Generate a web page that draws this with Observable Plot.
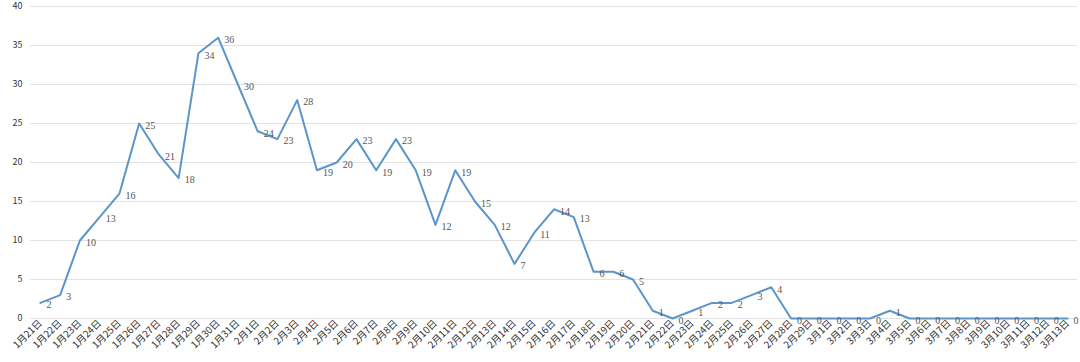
<!DOCTYPE html>
<html>
<head>
<meta charset="utf-8">
<script src="https://cdn.jsdelivr.net/npm/d3@7"></script>
<script src="https://cdn.jsdelivr.net/npm/@observablehq/plot@0.6"></script>
<style>
  html, body { margin: 0; padding: 0; background: #fff; }
  #chart svg { display: block; }
</style>
</head>
<body>
<div id="chart"></div>
<script>
const dates = [
  "1月21日","1月22日","1月23日","1月24日","1月25日","1月26日","1月27日","1月28日","1月29日","1月30日","1月31日",
  "2月1日","2月2日","2月3日","2月4日","2月5日","2月6日","2月7日","2月8日","2月9日","2月10日",
  "2月11日","2月12日","2月13日","2月14日","2月15日","2月16日","2月17日","2月18日","2月19日","2月20日",
  "2月21日","2月22日","2月23日","2月24日","2月25日","2月26日","2月27日","2月28日","2月29日",
  "3月1日","3月2日","3月3日","3月4日","3月5日","3月6日","3月7日","3月8日","3月9日","3月10日",
  "3月11日","3月12日","3月13日"
];
const values = [
  2,3,10,13,16,25,21,18,34,36,30,
  24,23,28,19,20,23,19,23,19,12,
  19,15,12,7,11,14,13,6,6,5,
  1,0,1,2,2,3,4,0,0,
  0,0,0,1,0,0,0,0,0,0,
  0,0,0
];
const yTicks = [0,5,10,15,20,25,30,35,40];

const data = dates.map((d, i) => ({date: d, value: values[i]}));

const chart = Plot.plot({
  width: 1080,
  height: 362,
  marginLeft: 30,
  marginRight: 3,
  marginTop: 6,
  marginBottom: 44,
  style: {background: "#fff", fontFamily: "'Noto Sans CJK SC', 'Noto Sans', sans-serif"},
  x: {type: "point", domain: dates, padding: 0.5, label: null},
  y: {domain: [0, 40], label: null},
  marks: [
    Plot.gridY(yTicks, {stroke: "#e3e3e3", strokeOpacity: 1, strokeWidth: 1}),
    Plot.axisY(yTicks, {tickSize: 0, tickPadding: 8, fontSize: 9, fill: "#333", label: null}),
    Plot.axisX({tickSize: 0, tickPadding: 3, tickRotate: -45, fontSize: 9.8, fill: "#333", label: null}),
    Plot.line(data, {x: "date", y: "value", stroke: "#5b95c9", strokeWidth: 2}),
    Plot.text(data, {x: "date", y: "value", text: "value", dx: 6, dy: 2, textAnchor: "start",
      fontFamily: "'Liberation Serif', 'DejaVu Serif', serif", fontSize: 10, fill: "#555"})
  ]
});
document.getElementById("chart").appendChild(chart);
</script>
</body>
</html>
